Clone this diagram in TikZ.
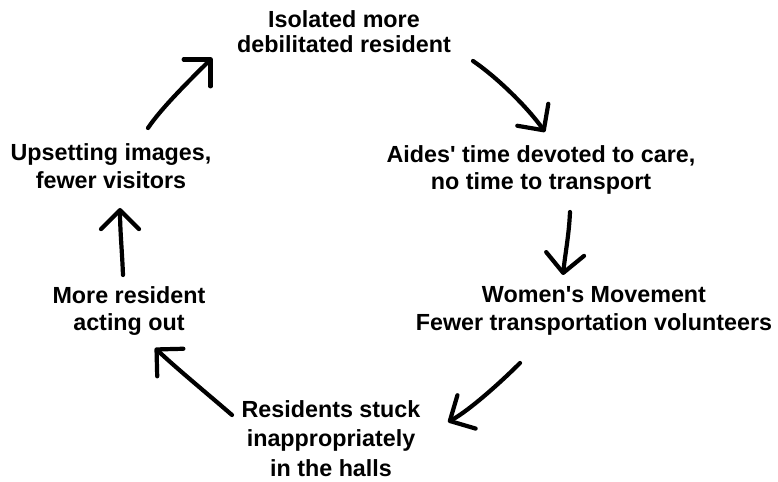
\documentclass[tikz,border=0pt]{standalone}
\usepackage{fontspec}
\setmainfont{Liberation Sans}
\usetikzlibrary{arrows.meta}

\begin{document}
\begin{tikzpicture}[x=1bp,y=-1bp,
  label/.style={font={\fontsize{23.4}{28}\selectfont\bfseries},
    align=center, inner sep=0pt, anchor=base},
  loop/.style={line width=4.2bp, line cap=round, line join=round,
    -{Straight Barb[length=19bp,width=38bp,line cap=round,line join=round]}}]
  \useasboundingbox (0,0) rectangle (778,482);

  % the six states of the cycle (placed by the baseline of their last line)
  \node[label, font={\fontsize{23.4}{26}\selectfont\bfseries}] (iso) at (344,53) {Isolated more\\debilitated resident};
  \node[label] (aides) at (541,190) {Aides\textquotesingle{} time devoted to care,\\no time to transport};
  \node[label] (women) at (594,330) {Women\textquotesingle s Movement\\Fewer transportation volunteers};
  \node[label, font={\fontsize{23.4}{29.5}\selectfont\bfseries}] (stuck) at (331,476) {Residents stuck\\inappropriately\\in the halls};
  \node[label, font={\fontsize{23.4}{27}\selectfont\bfseries}] (acting) at (129,330) {More resident\\acting out};
  \node[label, font={\fontsize{23.4}{29}\selectfont\bfseries}] (upset) at (111,189) {Upsetting images,\\fewer visitors};

  % arrow end points between the states
  \coordinate (a1s) at (473,61);  \coordinate (a1e) at (545,132);
  \coordinate (a2s) at (570,212); \coordinate (a2e) at (563,275);
  \coordinate (a3s) at (520,363); \coordinate (a3e) at (448,422);
  \coordinate (a4s) at (232,415); \coordinate (a4e) at (155,348);
  \coordinate (a5s) at (123,275); \coordinate (a5e) at (120,208);
  \coordinate (a6s) at (148,128); \coordinate (a6e) at (212,58);

  % hand-drawn arrows around the cycle
  \draw[loop] (a1s) .. controls (498,78) and (528,108) .. (a1e);
  \draw[loop] (a2s) .. controls (569,235) and (565,255) .. (a2e);
  \draw[loop] (a3s) .. controls (502,381) and (470,410) .. (a3e);
  \draw[loop] (a4s) .. controls (210,396) and (175,367) .. (a4e);
  \draw[loop] (a5s) .. controls (122,250) and (120,230) .. (a5e);
  \draw[loop] (a6s) .. controls (162,107) and (194,76) .. (a6e);
\end{tikzpicture}
\end{document}
